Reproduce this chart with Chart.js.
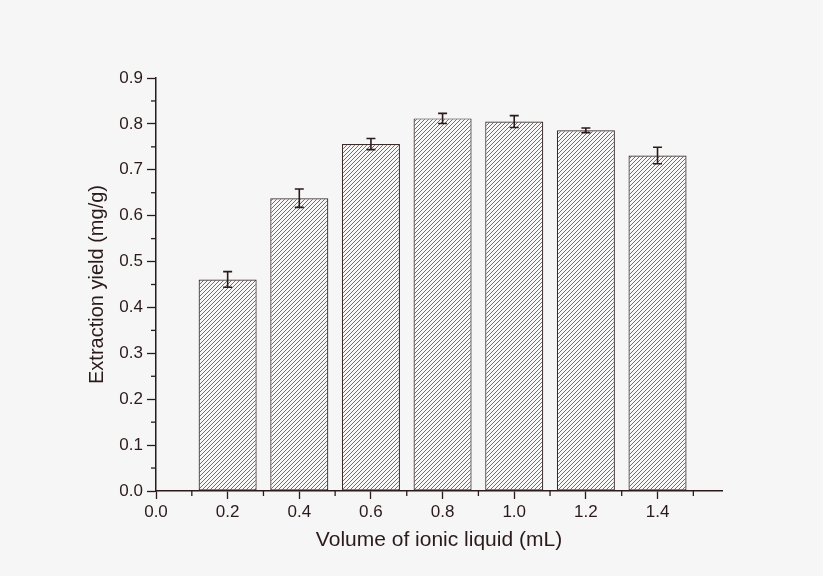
<!DOCTYPE html>
<html>
<head>
<meta charset="utf-8">
<script src="https://cdn.jsdelivr.net/npm/chart.js@4.4.1/dist/chart.umd.min.js"></script>
<style>
  html, body { margin: 0; padding: 0; background: #f6f6f6; }
  #wrap { width: 823px; height: 576px; }
</style>
</head>
<body>
<div id="wrap"><canvas id="c" width="823" height="576"></canvas></div>
<script>
// data
const volumes = [0.2, 0.4, 0.6, 0.8, 1.0, 1.2, 1.4];
const yields = [0.461, 0.638, 0.756, 0.812, 0.805, 0.786, 0.731];
const yieldErr = [0.017, 0.020, 0.012, 0.011, 0.013, 0.005, 0.018];
const xTickValues = [0.0, 0.2, 0.4, 0.6, 0.8, 1.0, 1.2, 1.4];
const xMinorTicks = [0.1, 0.3, 0.5, 0.7, 0.9, 1.1, 1.3, 1.5];
const yTickValues = [0.0, 0.1, 0.2, 0.3, 0.4, 0.5, 0.6, 0.7, 0.8, 0.9];
const yMinorTicks = [0.05, 0.15, 0.25, 0.35, 0.45, 0.55, 0.65, 0.75, 0.85];

const axisColor = '#2b1a1a';
const fontFamily = "'Liberation Sans', Arial, sans-serif";

// diagonal hatch like the original plot
function makeHatch() {
    const n = 4;
    const p = document.createElement('canvas');
    p.width = n; p.height = n;
    const g = p.getContext('2d');
    g.fillStyle = '#f8f8f8';
    g.fillRect(0, 0, n, n);
    g.strokeStyle = '#786b6b';
    g.lineWidth = 1;
    g.beginPath();
    g.moveTo(0, n); g.lineTo(n, 0);
    g.moveTo(-1, 1); g.lineTo(1, -1);
    g.moveTo(n - 1, n + 1); g.lineTo(n + 1, n - 1);
    g.stroke();
    return g.createPattern(p, 'repeat');
}

// error bars + minor ticks, positioned through the chart scales
const extrasPlugin = {
    id: 'extras',
    afterDatasetsDraw(chart) {
        const ctx = chart.ctx;
        const xs = chart.scales.x, ys = chart.scales.y;
        ctx.save();
        ctx.strokeStyle = axisColor;
        ctx.lineWidth = 1.6;
        volumes.forEach((v, i) => {
            const px = xs.getPixelForValue(v);
            const top = ys.getPixelForValue(yields[i] + yieldErr[i]);
            const bot = ys.getPixelForValue(yields[i] - yieldErr[i]);
            ctx.beginPath();
            ctx.moveTo(px, top); ctx.lineTo(px, bot);
            ctx.moveTo(px - 4.5, top); ctx.lineTo(px + 4.5, top);
            ctx.moveTo(px - 4.5, bot); ctx.lineTo(px + 4.5, bot);
            ctx.stroke();
        });
        ctx.lineWidth = 1.3;
        const baseY = ys.getPixelForValue(0);
        xMinorTicks.forEach(v => {
            const px = xs.getPixelForValue(v);
            ctx.beginPath();
            ctx.moveTo(px, baseY); ctx.lineTo(px, baseY + 5);
            ctx.stroke();
        });
        const baseX = xs.getPixelForValue(0);
        yMinorTicks.forEach(v => {
            const py = ys.getPixelForValue(v);
            ctx.beginPath();
            ctx.moveTo(baseX, py); ctx.lineTo(baseX - 5, py);
            ctx.stroke();
        });
        ctx.restore();
    }
};

const bgPlugin = {
    id: 'bg',
    beforeDraw(chart) {
        const ctx = chart.ctx;
        ctx.save();
        ctx.fillStyle = '#f6f6f6';
        ctx.fillRect(0, 0, chart.width, chart.height);
        ctx.restore();
    }
};

const ctx = document.getElementById('c').getContext('2d');
// eslint-disable-next-line no-undef
const chart = new Chart(ctx, {
    type: 'bar',
    data: {
        datasets: [{
            data: volumes.map((v, i) => ({ x: v, y: yields[i] })),
            backgroundColor: makeHatch(),
            borderColor: '#3a2a2a',
            borderWidth: 1.2,
            borderSkipped: false,
            barPercentage: 0.81,
            categoryPercentage: 1.0
        }]
    },
    options: {
        responsive: false,
        animation: false,
        layout: { padding: { left: 0, top: 78, right: 101, bottom: 0 } },
        plugins: {
            legend: { display: false },
            tooltip: { enabled: false }
        },
        scales: {
            x: {
                type: 'linear',
                min: 0,
                max: 1.58,
                offset: false,
                afterBuildTicks: s => { s.ticks = xTickValues.map(v => ({ value: v })); },
                afterFit: s => { s.height = 85; },
                ticks: {
                    color: axisColor,
                    font: { family: fontFamily, size: 17 },
                    padding: 3,
                    maxRotation: 0,
                    callback: v => v.toFixed(1)
                },
                grid: {
                    display: true,
                    offset: false,
                    drawOnChartArea: false,
                    tickLength: 8,
                    tickWidth: 1.3,
                    tickColor: axisColor
                },
                border: { display: true, color: axisColor, width: 1.5 },
                title: {
                    display: true,
                    text: 'Volume of ionic liquid (mL)',
                    color: axisColor,
                    font: { family: fontFamily, size: 21 },
                    padding: { top: 0, bottom: 23 }
                }
            },
            y: {
                min: 0,
                max: 0.9,
                afterBuildTicks: s => { s.ticks = yTickValues.map(v => ({ value: v })); },
                afterFit: s => { s.width = 156; },
                ticks: {
                    color: axisColor,
                    font: { family: fontFamily, size: 17 },
                    padding: 4,
                    callback: v => v.toFixed(1)
                },
                grid: {
                    display: true,
                    offset: false,
                    drawOnChartArea: false,
                    tickLength: 9,
                    tickWidth: 1.3,
                    tickColor: axisColor
                },
                border: { display: true, color: axisColor, width: 1.5 },
                title: {
                    display: true,
                    text: 'Extraction yield (mg/g)',
                    color: axisColor,
                    font: { family: fontFamily, size: 20 },
                    padding: { top: 85, bottom: 0 }
                }
            }
        }
    },
    plugins: [bgPlugin, extrasPlugin]
});
</script>
</body>
</html>
